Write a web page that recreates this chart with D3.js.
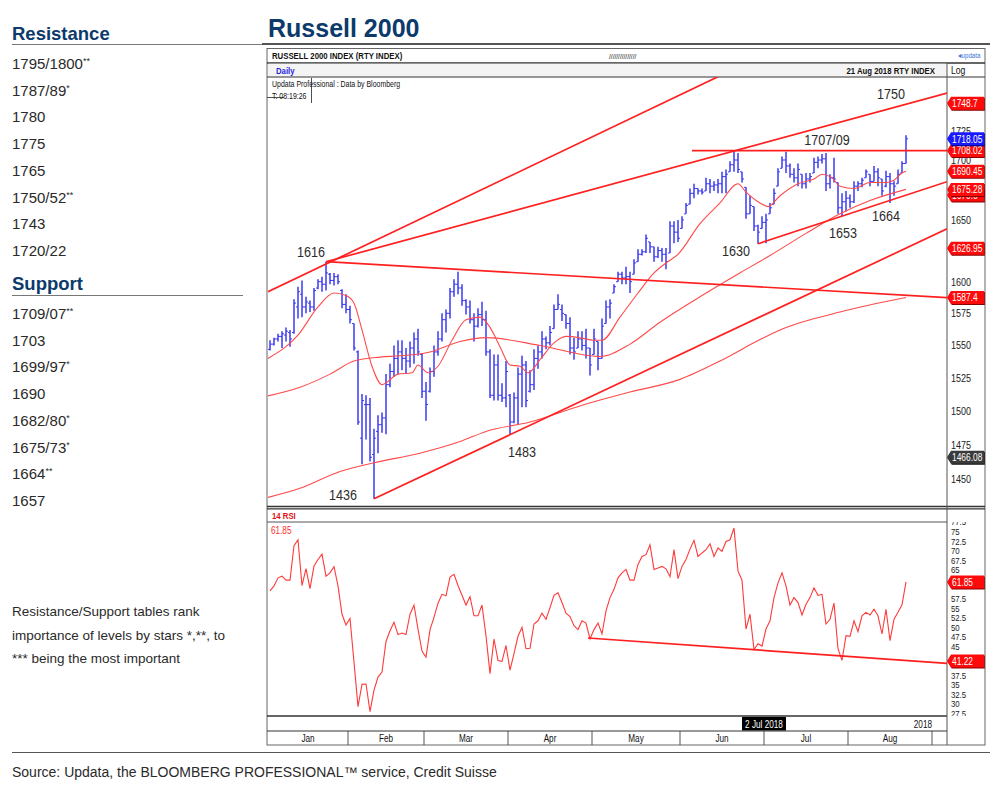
<!DOCTYPE html>
<html><head><meta charset="utf-8">
<script src="https://cdn.jsdelivr.net/npm/d3@7"></script>
<style>body{margin:0;background:#fff;}svg{display:block;}</style>
</head><body>
<svg id="c" width="1000" height="788"></svg>
<script>
// ---------------- DATA ----------------
const resistanceLevels = ["1795/1800","1787/89","1780","1775","1765","1750/52","1743","1720/22"];
const resistanceStars  = ["**","*","","","","**","",""];
const supportLevels = ["1709/07","1703","1699/97","1690","1682/80","1675/73","1664","1657"];
const supportStars  = ["**","","*","","*","*","**",""];

const monthNames = ["Jan","Feb","Mar","Apr","May","Jun","Jul","Aug"];
const monthStart = [0,20,39,60,81,103,124,145,166]; // trading-day index of first day in month

const rtyOpen = [1547,1551,1555,1557,1558,1560,1560,1580,1590,1580,1583,1580,1595,1600,1598,1606,1601,1604,1593,1582,
1578,1567,1545,1480,1505,1505,1468,1485,1490,1495,1520,1530,1540,1545,1540,1538,1548,1555,1543,1515,
1515,1530,1545,1555,1570,1575,1592,1598,1595,1585,1580,1570,1565,1574,1570,1545,1512,1535,1512,1510,
1512,1492,1510,1528,1535,1515,1520,1540,1545,1555,1552,1563,1578,1578,1574,1567,1548,1548,1555,1550,
1548,1543,1553,1540,1567,1580,1591,1600,1606,1603,1604,1606,1616,1622,1624,1632,1628,1620,1625,1622,
1623,1645,1640,1643,1655,1663,1672,1676,1674,1674,1680,1678,1679,1680,1686,1690,1696,1700,1690,1677,
1655,1661,1645,1643,1648,1655,1663,1678,1693,1700,1695,1688,1685,1688,1680,1684,1689,1698,1700,1701,
1680,1685,1681,1660,1665,1668,1665,1678,1680,1685,1688,1682,1690,1684,1678,1686,1680,1680,1689,1697];
const rtyHigh = [1554,1556,1559,1561,1564,1562,1586,1596,1601,1588,1585,1595,1602,1604,1616,1607,1607,1606,1594,1590,
1581,1567,1546,1513,1512,1510,1487,1497,1499,1528,1536,1550,1554,1554,1548,1553,1560,1563,1544,1522,
1533,1550,1561,1575,1578,1595,1602,1608,1598,1586,1585,1575,1579,1584,1577,1547,1543,1543,1521,1538,
1513,1514,1533,1542,1538,1531,1547,1550,1561,1557,1565,1582,1590,1582,1574,1572,1556,1561,1561,1563,
1548,1563,1553,1571,1585,1586,1598,1608,1608,1612,1608,1618,1626,1626,1638,1632,1628,1628,1627,1627,
1649,1649,1650,1653,1664,1676,1680,1676,1676,1685,1684,1682,1684,1690,1692,1699,1708.5,1706,1690,1677,
1670,1661,1646,1653,1655,1664,1676,1693,1703,1707,1697,1693,1697,1688,1689,1689,1702,1703,1705,1706,
1688,1702,1681,1672,1674,1671,1682,1682,1685,1692,1688,1695,1693,1684,1691,1689,1682,1692,1699,1721];
const rtyLow = [1546,1550,1553,1548,1553,1549,1559,1571,1572,1575,1576,1577,1594,1592,1593,1598,1597,1598,1579,1575,
1567,1546,1490,1461,1479,1463,1436,1469,1484,1483,1518,1526,1528,1531,1528,1533,1536,1542,1510,1493,
1514,1526,1542,1553,1560,1571,1588,1590,1581,1574,1567,1553,1564,1565,1542,1510,1508,1508,1507,1503,
1483,1491,1490,1503,1503,1514,1516,1532,1540,1547,1550,1563,1578,1569,1563,1543,1539,1548,1546,1540,
1527,1543,1531,1540,1567,1571,1591,1600,1598,1598,1591,1606,1616,1621,1623,1623,1616,1619,1616,1610,
1623,1631,1632,1643,1655,1663,1668,1671,1671,1674,1672,1674,1672,1672,1672,1690,1690,1689,1681,1651,
1655,1641,1630.5,1643,1631,1655,1663,1678,1693,1689,1685,1681,1678,1676,1676,1681,1689,1693,1697,1674,
1676,1681,1655,1653,1657,1660,1664,1674,1677,1685,1678,1682,1678,1670,1677,1664,1670,1680,1689,1697];
const rtyClose = [1551,1555,1557,1559,1561,1555,1583,1592,1580,1584,1580,1593,1600,1598,1607,1601,1604,1600,1582,1578,
1570,1548,1492,1508,1505,1466,1480,1490,1495,1520,1530,1540,1545,1540,1538,1548,1555,1545,1515,1505,
1530,1545,1555,1570,1575,1592,1598,1595,1585,1580,1570,1565,1574,1570,1545,1512,1535,1512,1510,1530,
1492,1510,1528,1535,1508,1520,1540,1545,1555,1552,1560,1578,1582,1575,1567,1548,1545,1555,1550,1548,
1535,1555,1540,1565,1580,1583,1596,1606,1603,1604,1600,1615,1622,1624,1635,1628,1620,1625,1622,1616,
1645,1640,1635,1650,1662,1672,1676,1674,1673,1680,1678,1679,1680,1686,1688,1696,1700,1692,1684,1655,
1662,1645,1640,1648,1650,1660,1672,1690,1700,1695,1688,1685,1692,1680,1684,1686,1698,1700,1701,1680,
1685,1684,1660,1665,1668,1665,1678,1680,1683,1690,1682,1690,1685,1674,1686,1680,1678,1688,1697,1718.05];

// moving averages: [trading-day index, value]
const ma21Idx = [-0.5,7,12,16,19,21,23,25.5,28,32,35.5,37,39.5,42,45.5,49,52.5,55,57.5,60,62.5,64.5,67.5,71,74,77.5,81,83,87.5,92,96,99,102,107.5,112.5,117,119,122.5,124.5,127.5,132,136,138,140.5,142.5,146,150,154,156,158,159];
const ma21Val = [1540,1558,1580,1591,1589,1583,1562,1534,1520,1528,1529,1535,1529,1534,1554,1570,1572,1564,1549,1535,1534,1529,1539,1552,1557,1556,1554,1554,1572,1591,1607,1615,1622,1647,1664,1680,1673,1664,1661,1670,1680,1684,1688,1685,1678,1676,1681,1681,1683,1689,1690.45];
const ma55Idx = [-0.5,7.5,15,21,27.5,32.5,40,47.5,54,67.5,82.5,90,97.5,107.5,117.5,125,134,142.5,150,159];
const ma55Val = [1511.5,1518,1528,1538,1541,1542,1545,1553,1556,1550,1541.5,1551,1568,1588,1607,1621,1639,1655,1666,1675.28];
const ma200Idx = [-0.5,7.5,17.5,26,37.5,47.5,54,65,77.5,90,102.5,112.5,122.5,127.5,142.5,159];
const ma200Val = [1437,1443.5,1455.7,1462,1469,1477.5,1485,1492,1504,1514.4,1524,1538,1554.5,1562,1576,1587.4];

// trend lines: [index, price] endpoints
const trendFrom = [[-0.5,1592],[14,1616],[14,1616],[26,1436],[122,1630.5],[105.5,1708]];
const trendTo   = [[112,1772],[169.25,1757.6],[169.25,1587.3],[169.25,1642.7],[169.25,1681.7],[169.25,1708]];

const annText  = ["1616","1436","1483","1630","1653","1664","1707/09","1750"];
const annIdx   = [10.25,18.25,63,116.5,143.25,154,139.25,155.25];
const annPrice = [1619.8,1435.2,1466.3,1620.6,1635.2,1649.1,1712.8,1752.5];

const priceTicks = [1450,1475,1500,1525,1550,1575,1600,1625,1650,1675,1700,1725,1750];
const priceTags  = [1748.7,1670.6,1675.28,1690.45,1708.02,1718.05,1626.95,1587.4,1466.08];
const priceTagKind = ["r","r","r","r","r","b","r","r","k"];

const rsi = [59.5,60.8,62.9,63.35,62.3,62.3,71.3,72.8,60.9,65.3,
60.1,66.0,67.7,69.1,63.35,64.2,65.8,60.8,53.4,50.6,
52.3,40.9,29.3,35.1,35.2,28.0,33.6,37.0,38.3,46.3,
49.1,51.3,48.1,48.5,48.1,53.4,55.8,49.5,43.8,42.2,
49.4,52.6,56.3,58.6,58.2,63.1,63.8,60.9,58.35,55.8,
58.0,53.0,53.0,55.8,47.8,37.9,46.95,41.35,41.1,45.25,
38.8,43.1,47.65,50.0,44.4,44.55,50.85,51.7,53.7,52.1,
55.15,58.35,59.0,56.45,53.7,52.8,50.4,49.4,51.7,51.1,
46.95,49.4,51.1,
48.25,54.3,57.75,59.9,62.9,64.2,65.1,62.3,62.3,66.4,
68.5,68.96,71.55,65.1,65.5,65.9,65.25,63.2,70.25,62.7,
65.9,67.7,70.4,72.7,68.5,69.4,70.25,71.8,68.5,70.7,
69.8,72.4,72.85,75.9,64.65,62.3,49.55,53.4,44.2,45.7,
45.1,49.55,51.7,57.75,61.6,64.2,60.8,55.8,57.75,56.45,
53.2,56.0,57.75,60.3,58.35,58.6,50.85,52.1,56.3,44.4,
41.35,47.8,47.65,51.7,48.85,53.0,53.9,53.2,54.7,53.0,
48.25,54.7,46.5,52.1,53.9,55.85,61.85];
const rsiTrendFrom = [79.5,47.2];
const rsiTrendTo   = [169.25,40.6];
const rsiTicks = [27.5,30,32.5,35,37.5,40,42.5,45,47.5,50,52.5,55,57.5,60,62.5,65,67.5,70,72.5,75,77.5];
const rsiTags = [61.85,41.22];

// ---------------- DRAW ----------------
const SANS = "'Liberation Sans',Arial,Helvetica,sans-serif";
const NAVY = "#0b3a6b";
const SX = 0.82; // horizontal condensing for the narrow chart font
const svg = d3.select("#c");

function nt(g, xx, yy, s, size, o) {
  o = o || {};
  const t = g.append("text")
    .attr("transform", `translate(${xx},${yy}) scale(${o.sx || SX},1)`)
    .attr("font-family", SANS).attr("font-size", size)
    .attr("fill", o.fill || "#111").text(s);
  if (o.anchor) t.attr("text-anchor", o.anchor);
  if (o.bold) t.attr("font-weight", "bold");
  return t;
}

// left panel
function level(yb, lv, st){
  const t = svg.append("text").attr("x",12).attr("y",yb).attr("font-family",SANS).attr("font-size",15).attr("fill","#2a2a2a").text(lv);
  if (st) t.append("tspan").attr("font-size",9).attr("dy",-5).text(st);
}
svg.append("text").attr("x",12).attr("y",40).attr("font-family",SANS).attr("font-weight","bold").attr("font-size",18.5).attr("fill",NAVY).text("Resistance");
svg.append("line").attr("x1",12).attr("x2",262).attr("y1",44.5).attr("y2",44.5).attr("stroke","#777").attr("stroke-width",1);
resistanceLevels.forEach((l,k)=>level(69+k*26.7,l,resistanceStars[k]));
svg.append("text").attr("x",12).attr("y",290).attr("font-family",SANS).attr("font-weight","bold").attr("font-size",18.5).attr("fill",NAVY).text("Support");
svg.append("line").attr("x1",12).attr("x2",243).attr("y1",295.5).attr("y2",295.5).attr("stroke","#777").attr("stroke-width",1);
supportLevels.forEach((l,k)=>level(319+k*26.7,l,supportStars[k]));
["Resistance/Support tables rank","importance of levels by stars *,**, to","*** being the most important"].forEach((s,k)=>{
  svg.append("text").attr("x",12).attr("y",616+k*23.5).attr("font-family",SANS).attr("font-size",13.5).attr("fill","#2a2a2a").text(s);
});

// title
svg.append("text").attr("x",268).attr("y",37).attr("font-family",SANS).attr("font-weight","bold").attr("font-size",25).attr("fill",NAVY).text("Russell 2000");
svg.append("line").attr("x1",262).attr("x2",990).attr("y1",44).attr("y2",44).attr("stroke","#555").attr("stroke-width",2);

// source
svg.append("line").attr("x1",12).attr("x2",990).attr("y1",752.5).attr("y2",752.5).attr("stroke","#555").attr("stroke-width",1.2);
svg.append("text").attr("x",12).attr("y",777).attr("font-family",SANS).attr("font-size",14).attr("fill","#2a2a2a").text("Source: Updata, the BLOOMBERG PROFESSIONAL\u2122 service, Credit Suisse");

// chart frame geometry
const FL=267, FR=985, AX=947, PT=77, PB=506, RT=522, RB=716;
const x = d3.scaleLinear().domain([-0.5,169.25]).range([268,947]);
const y = d3.scaleLog().domain([1450,1700]).range([479.3,160]);
const yr = d3.scaleLinear().domain([27.5,75]).range([713.5,531.5]);

const defs = svg.append("defs");
defs.append("clipPath").attr("id","cp").append("rect").attr("x",FL+1).attr("y",PT).attr("width",AX-FL-1).attr("height",PB-PT);
defs.append("clipPath").attr("id","cr").append("rect").attr("x",FL+1).attr("y",RT).attr("width",AX-FL-1).attr("height",RB-RT);
defs.append("clipPath").attr("id","cpa").append("rect").attr("x",AX).attr("y",PT).attr("width",FR-AX).attr("height",PB-PT);
defs.append("clipPath").attr("id","cra").append("rect").attr("x",AX).attr("y",RT).attr("width",FR-AX).attr("height",RB-RT);

// header rows
svg.append("rect").attr("x",FL).attr("y",48.5).attr("width",FR-FL).attr("height",745-48.5).attr("fill","none").attr("stroke","#666").attr("stroke-width",1);
svg.append("line").attr("x1",FL).attr("x2",FR).attr("y1",63).attr("y2",63).attr("stroke","#333").attr("stroke-width",1.4);
svg.append("rect").attr("x",FL+1).attr("y",63.7).attr("width",AX-FL-1).attr("height",13).attr("fill","#f4f4f4");
svg.append("line").attr("x1",FL).attr("x2",FR).attr("y1",77).attr("y2",77).attr("stroke","#333").attr("stroke-width",1);
nt(svg,272,59,"RUSSELL  2000 INDEX (RTY INDEX)",9.5,{bold:true});
nt(svg,609,59,"///////////////",8);
nt(svg,958,58,"\u25c2updata",7.5,{fill:"#3a6fd8"});
nt(svg,276,73.5,"Daily",9.5,{bold:true,fill:"#1f1fe0"});
nt(svg,935,73.5,"21 Aug 2018  RTY INDEX",9.5,{bold:true,anchor:"end"});
nt(svg,951,74,"Log",10.5);
nt(svg,272,87,"Updata Professional : Data by Bloomberg",8.5);
nt(svg,272,99,"T: 08:19:26",8.5);
svg.append("line").attr("x1",311.5).attr("x2",311.5).attr("y1",78).attr("y2",103).attr("stroke","#222").attr("stroke-width",0.8);
svg.append("line").attr("x1",FL).attr("x2",284).attr("y1",97.5).attr("y2",97.5).attr("stroke","#222").attr("stroke-width",0.8);

// panel separators
svg.append("line").attr("x1",FL).attr("x2",FR).attr("y1",506.5).attr("y2",506.5).attr("stroke","#333").attr("stroke-width",1.3);
svg.append("line").attr("x1",FL).attr("x2",FR).attr("y1",508.8).attr("y2",508.8).attr("stroke","#333").attr("stroke-width",1.3);
svg.append("line").attr("x1",FL).attr("x2",AX).attr("y1",RT).attr("y2",RT).attr("stroke","#555").attr("stroke-width",1);
svg.append("line").attr("x1",FL).attr("x2",AX).attr("y1",RB).attr("y2",RB).attr("stroke","#333").attr("stroke-width",1.3);
svg.append("line").attr("x1",FL).attr("x2",AX).attr("y1",731).attr("y2",731).attr("stroke","#333").attr("stroke-width",1);
svg.append("line").attr("x1",AX).attr("x2",AX).attr("y1",63).attr("y2",745).attr("stroke","#555").attr("stroke-width",1);
nt(svg,272,518.5,"14 RSI",9.5,{bold:true,fill:"#e01010"});
nt(svg,271,534,rsi[rsi.length-1].toFixed(2),10,{fill:"#ff3030"});

// ---- price panel ----
const gp = svg.append("g").attr("clip-path","url(#cp)");
const BLUE = "#3a3af5";
const bars = gp.append("g").attr("stroke",BLUE).attr("stroke-width",1.5);
rtyClose.forEach((c,i)=>{
  const xi = x(i);
  bars.append("line").attr("x1",xi).attr("x2",xi).attr("y1",y(rtyHigh[i])).attr("y2",y(rtyLow[i]));
  bars.append("line").attr("x1",xi-2).attr("x2",xi).attr("y1",y(rtyOpen[i])).attr("y2",y(rtyOpen[i])).attr("stroke-width",1);
  bars.append("line").attr("x1",xi).attr("x2",xi+2).attr("y1",y(c)).attr("y2",y(c)).attr("stroke-width",1);
});
const maLine = d3.line().x(d=>x(d[0])).y(d=>y(d[1])).curve(d3.curveMonotoneX);
[[ma21Idx,ma21Val],[ma55Idx,ma55Val],[ma200Idx,ma200Val]].forEach(([a,b])=>{
  gp.append("path").attr("d",maLine(a.map((v,k)=>[v,b[k]]))).attr("fill","none").attr("stroke","#ff4a4a").attr("stroke-width",1.1);
});
trendFrom.forEach((f,k)=>{
  const t = trendTo[k];
  gp.append("line").attr("x1",x(f[0])).attr("y1",y(f[1])).attr("x2",x(t[0])).attr("y2",y(t[1])).attr("stroke","#ff1f1f").attr("stroke-width",1.7);
});
annText.forEach((s,k)=>{
  nt(gp, x(annIdx[k]), y(annPrice[k]), s, 15, {anchor:"middle", fill:"#2b2b2b", sx:0.84});
});

// price axis: labels hidden beneath a value tag are not drawn (they are covered in the reference)
function covered(py, tagsY){ return tagsY.some(t=>Math.abs(t-py)<7.5); }
const pTagY = priceTags.map(v=>y(v));
const pa = svg.append("g").attr("clip-path","url(#cpa)");
priceTicks.forEach(v=>{
  pa.append("line").attr("x1",AX-3).attr("x2",AX).attr("y1",y(v)).attr("y2",y(v)).attr("stroke","#333");
});
pa.append("g").attr("transform",`translate(${AX},0)`)
  .call(d3.axisRight(y).tickValues(priceTicks.filter(v=>!covered(y(v),pTagY))).tickFormat(d3.format("d")).tickSize(0).tickPadding(5))
  .call(g=>g.select(".domain").remove())
  .call(g=>g.selectAll("text").attr("font-family",SANS).attr("font-size",11).attr("fill","#222").attr("transform",`scale(${SX},1)`));

function tag(g, yy, label, kind){
  const fill = kind==="b" ? "#1a1aff" : (kind==="k" ? "#3a3a3a" : "#ff0a0a");
  const sh = kind==="b" ? "#000080" : (kind==="k" ? "#111" : "#8a0000");
  const p = (dx,dy)=>`M${AX+dx},${yy+dy} L${AX+4+dx},${yy-6.5+dy} L${984+dx},${yy-6.5+dy} L${984+dx},${yy+6.5+dy} L${AX+4+dx},${yy+6.5+dy} Z`;
  g.append("path").attr("d",p(0.8,1)).attr("fill",sh);
  g.append("path").attr("d",p(0,0)).attr("fill",fill);
  nt(g, AX+5, yy+3.8, label, 10.5, {fill:"#fff", sx:0.8});
}
priceTags.forEach((v,k)=>tag(svg, y(v), String(v), priceTagKind[k]));

// ---- RSI panel ----
const gr = svg.append("g").attr("clip-path","url(#cr)");
gr.append("path").attr("d",d3.line().x((d,i)=>x(i)).y(d=>yr(d))(rsi)).attr("fill","none").attr("stroke","#ff3a3a").attr("stroke-width",1.1);
gr.append("line").attr("x1",x(rsiTrendFrom[0])).attr("y1",yr(rsiTrendFrom[1])).attr("x2",x(rsiTrendTo[0])).attr("y2",yr(rsiTrendTo[1])).attr("stroke","#ff1f1f").attr("stroke-width",1.7);

const rTagY = rsiTags.map(v=>yr(v));
const ra = svg.append("g").attr("clip-path","url(#cra)");
rsiTicks.forEach(v=>{
  ra.append("line").attr("x1",AX-3).attr("x2",AX).attr("y1",yr(v)).attr("y2",yr(v)).attr("stroke","#333");
});
ra.append("g").attr("transform",`translate(${AX},0)`)
  .call(d3.axisRight(yr).tickValues(rsiTicks.filter(v=>!covered(yr(v),rTagY))).tickFormat(d=>String(d)).tickSize(0).tickPadding(5))
  .call(g=>g.select(".domain").remove())
  .call(g=>g.selectAll("text").attr("font-family",SANS).attr("font-size",10).attr("fill","#222").attr("transform",`scale(0.78,0.95)`));
rsiTags.forEach(v=>tag(svg, yr(v), v.toFixed(2), "r"));

// ---- date rows ----
const jul = monthStart[6];
svg.append("rect").attr("x",x(jul-0.5)-22).attr("y",717).attr("width",44).attr("height",13.5).attr("fill","#000");
nt(svg, x(jul-0.5), 727.5, "2 Jul 2018", 10, {anchor:"middle", fill:"#fff"});
nt(svg, x(165.5), 727.5, "2018", 10, {anchor:"end"});
monthStart.forEach((m,k)=>{
  if (k>0) svg.append("line").attr("x1",x(m-0.5)).attr("x2",x(m-0.5)).attr("y1",731).attr("y2",745).attr("stroke","#555").attr("stroke-width",1);
  if (k<monthNames.length) {
    const cx = (x(m-0.5)+x(monthStart[k+1]-0.5))/2;
    nt(svg, cx, 742, monthNames[k], 10, {anchor:"middle"});
  }
});
</script>
</body></html>
